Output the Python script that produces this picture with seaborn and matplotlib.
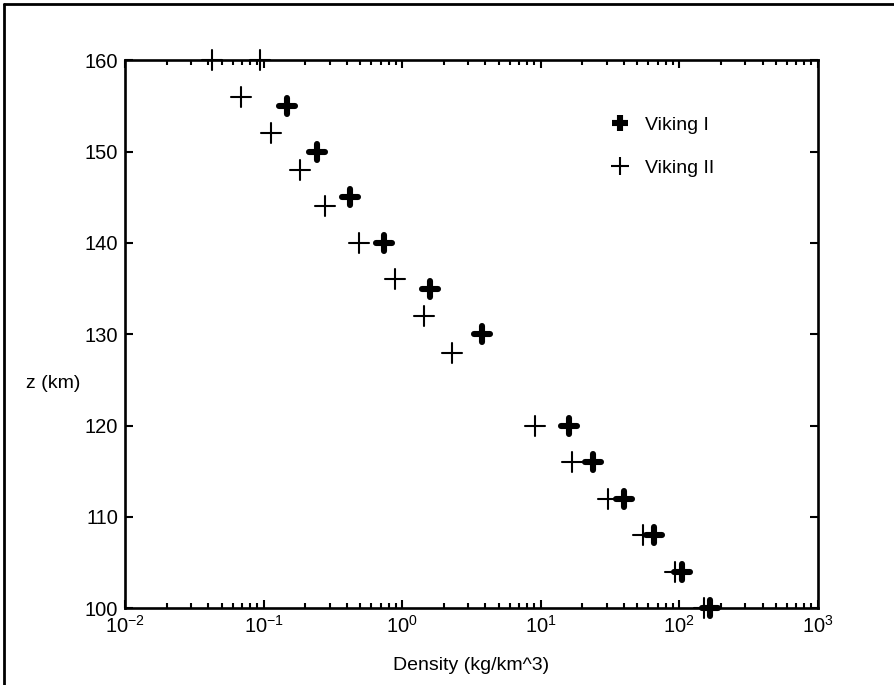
import matplotlib
matplotlib.use("Agg")
import matplotlib.pyplot as plt
from matplotlib.lines import Line2D
import seaborn as sns
import pandas as pd

# Viking lander entry profiles: altitude (km) vs atmospheric density (kg/km^3)
viking1_z = [155, 150, 145, 140, 135, 130, 120, 116, 112, 108, 104, 100]
viking1_rho = [0.147, 0.245, 0.422, 0.745, 1.59, 3.80, 15.9, 24.0, 40.1, 65.9, 104.5, 168]

viking2_z = [160, 160, 156, 152, 148, 144, 140, 136, 132, 128, 120, 116, 112, 108, 104, 100]
viking2_rho = [0.0423, 0.0944, 0.0684, 0.113, 0.184, 0.278, 0.492, 0.889, 1.44, 2.31,
               9.12, 16.97, 30.9, 55.2, 94.0, 150]

series_labels = ["Viking I", "Viking II"]
y_ticks = [100, 110, 120, 130, 140, 150, 160]

df1 = pd.DataFrame({"rho": viking1_rho, "z": viking1_z})
df2 = pd.DataFrame({"rho": viking2_rho, "z": viking2_z})

sns.set_style("ticks")
plt.rcParams["font.family"] = ["Liberation Sans", "DejaVu Sans"]
plt.rcParams["mathtext.fontset"] = "custom"
plt.rcParams["mathtext.rm"] = "Liberation Sans"
plt.rcParams["mathtext.it"] = "Liberation Sans"
for key in ["text.color", "axes.labelcolor", "xtick.color", "ytick.color"]:
    plt.rcParams[key] = "black"

fig = plt.figure(figsize=(8.95, 6.85), dpi=100)
ax = fig.add_axes([0.1397, 0.1120, 0.9136 - 0.1397, 0.9120 - 0.1120])

sns.scatterplot(data=df1, x="rho", y="z", ax=ax, marker="+", color="black",
                s=120, linewidth=4.4, clip_on=False, zorder=3)
sns.scatterplot(data=df2, x="rho", y="z", ax=ax, marker="+", color="black",
                s=190, linewidth=1.5, clip_on=False, zorder=3)
for coll in ax.collections:
    coll.set_capstyle("round")

ax.set_xscale("log")
ax.set_xlim(1e-2, 1e3)
ax.set_ylim(100, 160)
ax.set_yticks(y_ticks)
ax.set_yticklabels([str(v) for v in y_ticks])

for side in ["top", "right", "bottom", "left"]:
    ax.spines[side].set_visible(True)
    ax.spines[side].set_linewidth(1.9)
    ax.spines[side].set_color("black")

ax.tick_params(axis="both", which="both", direction="in", top=True, right=True,
               color="black", width=1.5)
ax.tick_params(axis="both", which="major", length=6, labelsize=14.5, pad=5)
ax.tick_params(axis="x", which="minor", length=3.5)

ax.set_xlabel("Density (kg/km^3)", fontsize=14, labelpad=14)
ax.set_ylabel("z (km)", fontsize=14, rotation=0, ha="right", va="center")
ax.yaxis.set_label_coords(-0.064, 0.411)

h1 = Line2D([], [], marker="+", linestyle="none", color="black", markersize=11,
            markeredgewidth=4.4)
h2 = Line2D([], [], marker="+", linestyle="none", color="black", markersize=13.5,
            markeredgewidth=1.5)
leg = ax.legend([h1, h2], series_labels, loc="upper left",
                bbox_to_anchor=(0.675, 0.93), frameon=False, fontsize=14,
                handlelength=1.0, handletextpad=0.8, labelspacing=1.3)

# figure border along the top and left edges
fig.add_artist(Line2D([0.004, 1.0], [0.994, 0.994], color="black", lw=2,
                      transform=fig.transFigure))
fig.add_artist(Line2D([0.005, 0.005], [0.0, 0.994], color="black", lw=2,
                      transform=fig.transFigure))

fig.savefig("out.png", dpi=100)
